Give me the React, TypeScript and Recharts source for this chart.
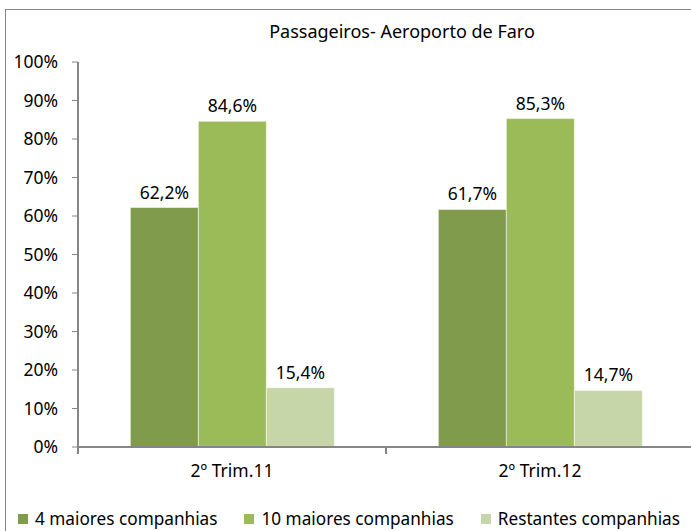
import { Bar, BarChart, LabelList, XAxis, YAxis } from "recharts";

const categories = ["2º Trim.11", "2º Trim.12"];
const top4 = [62.2, 61.7];
const top10 = [84.6, 85.3];
const others = [15.4, 14.7];
const yTicks = [0, 10, 20, 30, 40, 50, 60, 70, 80, 90, 100];

const series = [
  { key: "top4", name: "4 maiores companhias", color: "#809b4b" },
  { key: "top10", name: "10 maiores companhias", color: "#9bbb59" },
  { key: "others", name: "Restantes companhias", color: "#c6d6a9" },
];

const chartData = categories.map((name, i) => ({
  name,
  top4: top4[i],
  top10: top10[i],
  others: others[i],
}));

const font = "'Noto Sans', sans-serif";
const axisColor = "#868686";

const fmt = (v: number) => v.toFixed(1).replace(".", ",") + "%";

// category label plus tick marks on the band edges (Excel style)
function CategoryTick(props: any) {
  const { x, y, payload, index, visibleTicksCount } = props;
  const half = payload?.offset ?? 0;
  const last = index === visibleTicksCount - 1;
  const top = y - 14; // axis line (tickSize 6 + tickMargin 8)
  return (
    <g>
      <line x1={x - half} x2={x - half} y1={top} y2={top + 7} stroke={axisColor} strokeWidth={2} />
      {last && (
        <line x1={x + half} x2={x + half} y1={top} y2={top + 7} stroke={axisColor} strokeWidth={2} />
      )}
      <text
        x={x}
        y={y + 9}
        textAnchor="middle"
        dominantBaseline="central"
        fill="#000"
        fontSize={17.5}
        fontFamily={font}
      >
        {payload.value}
      </text>
    </g>
  );
}

export default function App() {
  return (
    <div
      style={{
        position: "absolute",
        left: 0,
        top: 0,
        width: 691,
        height: 531,
        overflow: "hidden",
        background: "#fff",
        fontFamily: font,
      }}
    >
      <div
        style={{
          position: "absolute",
          left: 5,
          top: 9,
          width: 720,
          height: 560,
          border: `1px solid ${axisColor}`,
        }}
      />
      <div
        style={{
          position: "absolute",
          left: 0,
          top: 19,
          width: 804,
          textAlign: "center",
          fontSize: 18,
          color: "#000",
        }}
      >
        Passageiros- Aeroporto de Faro
      </div>
      <div style={{ position: "absolute", left: 0, top: 0 }}>
        <BarChart
          width={720}
          height={531}
          data={chartData}
          margin={{ top: 62, right: 26, left: 18, bottom: 54 }}
          barCategoryGap="17%"
          barGap={0}
        >
          <XAxis
            dataKey="name"
            height={30}
            tickLine={false}
            axisLine={{ stroke: axisColor, strokeWidth: 2 }}
            tick={<CategoryTick />}
            tickSize={6}
            tickMargin={8}
            interval={0}
          />
          <YAxis
            width={60}
            domain={[0, 100]}
            ticks={yTicks}
            interval={0}
            tickFormatter={(v: number) => `${v}%`}
            axisLine={{ stroke: axisColor, strokeWidth: 2 }}
            tickLine={{ stroke: axisColor }}
            tickSize={6}
            tickMargin={14}
            tick={{ fill: "#000", fontSize: 17.5, fontFamily: font }}
          />
          {series.map((s) => (
            <Bar
              key={s.key}
              dataKey={s.key}
              name={s.name}
              fill={s.color}
              stroke="#fff"
              strokeWidth={0.5}
              isAnimationActive={false}
            >
              <LabelList
                dataKey={s.key}
                position="top"
                offset={9}
                formatter={(v: any) => fmt(Number(v))}
                style={{ fill: "#000", fontSize: 17.5, fontFamily: font }}
              />
            </Bar>
          ))}
        </BarChart>
      </div>
      <div
        style={{
          position: "absolute",
          left: 18,
          top: 507,
          display: "flex",
          gap: 27,
          fontSize: 17.2,
          color: "#000",
          whiteSpace: "nowrap",
        }}
      >
        {series.map((s) => (
          <div key={s.key} style={{ display: "flex", alignItems: "center", gap: 7 }}>
            <span style={{ width: 10, height: 10, background: s.color, display: "inline-block" }} />
            <span>{s.name}</span>
          </div>
        ))}
      </div>
    </div>
  );
}
